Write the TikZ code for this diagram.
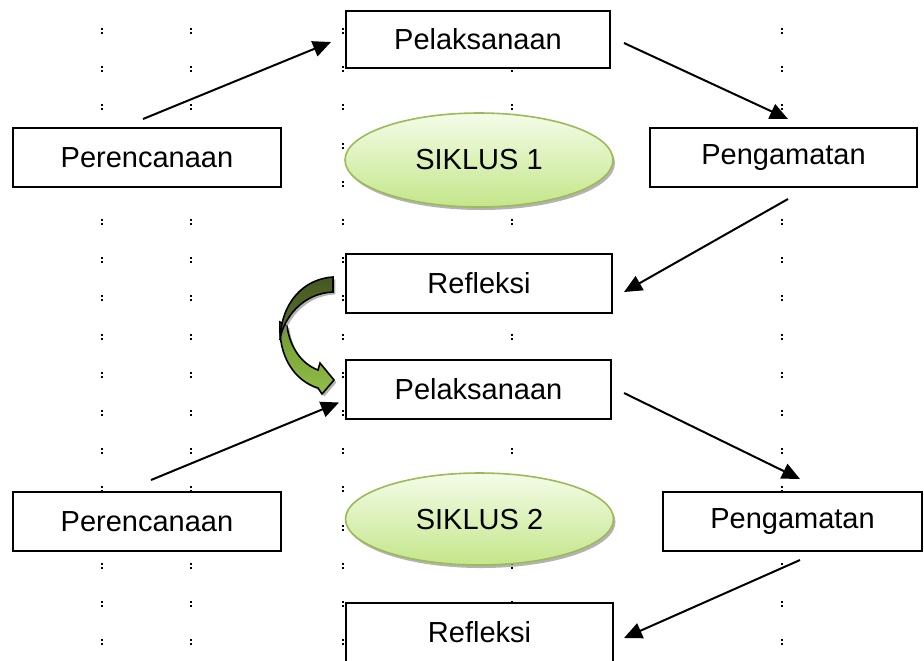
\documentclass[tikz,border=0pt]{standalone}
\usepackage{fontspec}
\setmainfont{Liberation Sans}
\usetikzlibrary{arrows.meta,calc,shapes.geometric,shadows}
\definecolor{garishijau}{RGB}{155,187,89}
\definecolor{hijauatas}{RGB}{244,252,232}
\definecolor{hijaubawah}{RGB}{196,230,138}
\definecolor{hijautua}{RGB}{70,88,34}
\definecolor{hijautua2}{RGB}{92,114,48}
\definecolor{hijaumuda}{RGB}{112,152,48}
\definecolor{hijaumuda2}{RGB}{146,190,72}

\begin{document}
\begin{tikzpicture}[
    x=0.5pt, y=-0.5pt,
    kotak/.style={rectangle, draw, line width=1pt, fill=white, minimum width=133pt, minimum height=29.5pt, inner sep=0pt, font=\fontsize{14.5}{17}\selectfont},
    siklus/.style={ellipse, draw=garishijau, line width=0.8pt, top color=hijauatas, bottom color=hijaubawah, minimum width=134pt, minimum height=47pt, inner sep=0pt, font=\fontsize{14.5}{17}\selectfont, drop shadow={shadow xshift=1pt, shadow yshift=-1.5pt, opacity=0.6, fill=gray}},
    panah/.style={-{Triangle[length=9pt,width=8pt]}, line width=1pt},
    bayang/.style={drop shadow={shadow xshift=1.2pt, shadow yshift=-1.2pt, opacity=0.6, fill=gray}}
]
\useasboundingbox (0,0) rectangle (924,660);
\clip (0,0) rectangle (924,660);

% Titik-titik garis tabel
\foreach \kx in {102,191,343,512,782}
  \foreach \ky in {0,...,16} {
    \fill ({\kx-1},{31+38.2*\ky-3}) rectangle ++(2,2);
    \fill ({\kx-1},{31+38.2*\ky+1}) rectangle ++(2,2);
  }

% Siklus 1
\node[kotak, minimum width=134pt] (ren1) at (147,157.5) {Perencanaan};
\node[kotak, minimum width=132pt, minimum height=28.5pt] (lak1) at (478,39.5) {Pelaksanaan};
\node[kotak, minimum width=133.5pt] (amat1) at (783.5,157.5) {Pengamatan};
\node[kotak] (ref1) at (479,283.5) {Refleksi};
\node[siklus] (sik1) at (479,160) {SIKLUS 1};

% Siklus 2
\node[kotak, minimum width=132.5pt] (lak2) at (478.5,389.5) {Pelaksanaan};
\node[kotak, minimum width=134pt] (ren2) at (147,521.5) {Perencanaan};
\node[kotak, minimum width=129.5pt] (amat2) at (792.5,521.5) {Pengamatan};
\node[kotak, minimum width=133.5pt] (ref2) at (479.5,632.5) {Refleksi};
\node[siklus, minimum height=46pt] (sik2) at (479.5,519) {SIKLUS 2};

% Panah siklus 1
\draw[panah] ($(ren1.north)+(-4,-8)$) -- ($(lak1.west)+(-14,2.5)$);
\draw[panah] ($(lak1.east)+(13,3.5)$) -- ($(amat1.north)+(4.5,-8)$);
\draw[panah] ($(amat1.south)+(4.5,11)$) -- ($(ref1.east)+(11,8.5)$);

% Panah siklus 2
\draw[panah] ($(ren2.north)+(4,-11)$) -- ($(lak2.west)+(-6,13)$);
\draw[panah] ($(lak2.east)+(12,3.5)$) -- ($(amat2.north)+(7.5,-12)$);
\draw[panah] ($(amat2.south)+(7.5,8)$) -- ($(ref2.east)+(10,5.5)$);

% Panah lengkung dari refleksi ke siklus 2
\draw[line width=0.8pt, top color=hijaumuda, bottom color=hijaumuda2, bayang]
  (280,322) .. controls (278,357) and (295,381) .. (318,388)
  -- (322,394) -- (334,380) -- (320,363) -- (318,370)
  .. controls (302,364) and (290,348) .. (287,326) -- cycle;
\draw[line width=0.8pt, top color=hijautua, bottom color=hijautua2, bayang]
  (333,277) .. controls (303,279) and (281,303) .. (280,340)
  .. controls (283,318) and (303,293) .. (333,292) -- cycle;

\end{tikzpicture}
\end{document}
